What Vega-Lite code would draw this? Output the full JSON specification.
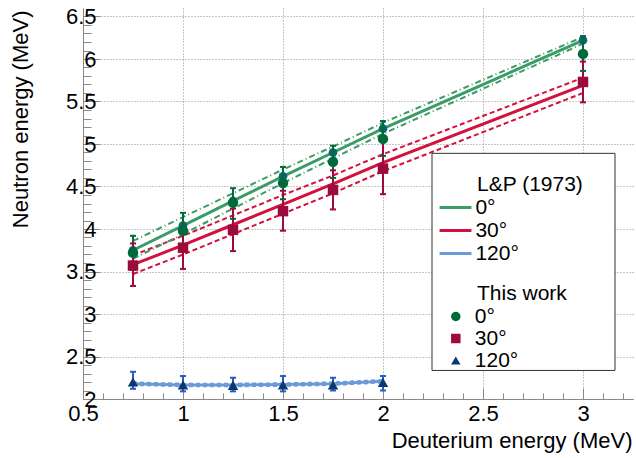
{
  "$schema": "https://vega.github.io/schema/vega-lite/v6.json",
  "width": 550,
  "height": 391,
  "autosize": {"type": "none"},
  "padding": {"left": 83, "top": 8, "right": 3, "bottom": 59},
  "background": "white",
  "config": {
    "view": {"stroke": null},
    "font": "Liberation Sans",
    "axis": {
      "labelFont": "Liberation Sans",
      "labelFontSize": 22,
      "labelColor": "black",
      "titleFont": "Liberation Sans",
      "titleFontSize": 22,
      "titleFontWeight": "normal",
      "titleColor": "black",
      "domainColor": "#888888",
      "tickColor": "#888888",
      "tickWidth": 1,
      "gridColor": "#8c8c8c",
      "gridDash": [1, 2],
      "gridWidth": 1,
      "labelOverlap": false,
      "labelFlush": false,
      "labelBound": false
    },
    "legend": {
      "labelFont": "Liberation Sans",
      "labelFontSize": 21,
      "labelColor": "black",
      "titleFont": "Liberation Sans",
      "titleFontSize": 21,
      "titleFontWeight": "normal",
      "titleColor": "black",
      "titlePadding": 2,
      "rowPadding": 1,
      "padding": 0,
      "titleLimit": 400
    }
  },
  "datasets": {
    "lp": [
      {"angle": "0°", "x": 0.75, "c": 3.75, "u": 3.86, "l": 3.65},
      {"angle": "0°", "x": 1.0, "c": 4.04, "u": 4.14, "l": 3.94},
      {"angle": "0°", "x": 1.25, "c": 4.33, "u": 4.42, "l": 4.24},
      {"angle": "0°", "x": 1.5, "c": 4.62, "u": 4.70, "l": 4.54},
      {"angle": "0°", "x": 1.75, "c": 4.90, "u": 4.97, "l": 4.83},
      {"angle": "0°", "x": 2.0, "c": 5.18, "u": 5.25, "l": 5.12},
      {"angle": "0°", "x": 3.0, "c": 6.22, "u": 6.26, "l": 6.18},
      {"angle": "30°", "x": 0.75, "c": 3.58, "u": 3.69, "l": 3.47},
      {"angle": "30°", "x": 1.0, "c": 3.81, "u": 3.92, "l": 3.70},
      {"angle": "30°", "x": 1.25, "c": 4.05, "u": 4.16, "l": 3.94},
      {"angle": "30°", "x": 1.5, "c": 4.29, "u": 4.40, "l": 4.18},
      {"angle": "30°", "x": 1.75, "c": 4.53, "u": 4.63, "l": 4.42},
      {"angle": "30°", "x": 2.0, "c": 4.78, "u": 4.88, "l": 4.68},
      {"angle": "30°", "x": 3.0, "c": 5.69, "u": 5.78, "l": 5.60},
      {"angle": "120°", "x": 0.75, "c": 2.18, "u": 2.195, "l": 2.165},
      {"angle": "120°", "x": 1.0, "c": 2.165, "u": 2.18, "l": 2.15},
      {"angle": "120°", "x": 1.25, "c": 2.165, "u": 2.18, "l": 2.15},
      {"angle": "120°", "x": 1.5, "c": 2.17, "u": 2.185, "l": 2.155},
      {"angle": "120°", "x": 1.75, "c": 2.18, "u": 2.195, "l": 2.165},
      {"angle": "120°", "x": 2.0, "c": 2.21, "u": 2.225, "l": 2.195}
    ],
    "tw": [
      {"angle": "0°", "x": 0.75, "y": 3.72, "lo": 3.52, "hi": 3.92},
      {"angle": "0°", "x": 1.0, "y": 3.98, "lo": 3.78, "hi": 4.19},
      {"angle": "0°", "x": 1.25, "y": 4.31, "lo": 4.12, "hi": 4.48},
      {"angle": "0°", "x": 1.5, "y": 4.54, "lo": 4.35, "hi": 4.73},
      {"angle": "0°", "x": 1.75, "y": 4.79, "lo": 4.60, "hi": 4.98},
      {"angle": "0°", "x": 2.0, "y": 5.06, "lo": 4.86, "hi": 5.27},
      {"angle": "0°", "x": 3.0, "y": 6.06, "lo": 5.86, "hi": 6.27},
      {"angle": "30°", "x": 0.75, "y": 3.57, "lo": 3.33, "hi": 3.83},
      {"angle": "30°", "x": 1.0, "y": 3.78, "lo": 3.53, "hi": 4.02},
      {"angle": "30°", "x": 1.25, "y": 3.99, "lo": 3.74, "hi": 4.24},
      {"angle": "30°", "x": 1.5, "y": 4.21, "lo": 3.98, "hi": 4.45},
      {"angle": "30°", "x": 1.75, "y": 4.46, "lo": 4.23, "hi": 4.69},
      {"angle": "30°", "x": 2.0, "y": 4.71, "lo": 4.41, "hi": 5.03},
      {"angle": "30°", "x": 3.0, "y": 5.73, "lo": 5.49, "hi": 5.97},
      {"angle": "120°", "x": 0.75, "y": 2.20, "lo": 2.12, "hi": 2.32},
      {"angle": "120°", "x": 1.0, "y": 2.165, "lo": 2.09, "hi": 2.27},
      {"angle": "120°", "x": 1.25, "y": 2.16, "lo": 2.09, "hi": 2.25},
      {"angle": "120°", "x": 1.5, "y": 2.165, "lo": 2.09, "hi": 2.27},
      {"angle": "120°", "x": 1.75, "y": 2.165, "lo": 2.10, "hi": 2.25},
      {"angle": "120°", "x": 2.0, "y": 2.195, "lo": 2.10, "hi": 2.27}
    ],
    "box": [{"x": 2.245, "x2": 3.16, "y": 2.336, "y2": 4.89}]
  },
  "resolve": {"axis": {"x": "independent", "y": "independent"}},
  "layer": [
    {
      "data": {"name": "box"},
      "mark": {"type": "rect", "fill": "white", "stroke": "#333333", "strokeWidth": 1},
      "encoding": {
        "x": {"field": "x", "type": "quantitative", "scale": {"domain": [0.5, 3.25], "nice": false, "zero": false},
          "axis": {"orient": "bottom", "values": [0.6,0.7,0.8,0.9,1.1,1.2,1.3,1.4,1.6,1.7,1.8,1.9,2.1,2.2,2.3,2.4,2.6,2.7,2.8,2.9,3.1,3.2],
            "labels": false, "grid": false, "domain": false, "ticks": true, "tickSize": -6, "title": null}},
        "x2": {"field": "x2"},
        "y": {"field": "y", "type": "quantitative", "scale": {"domain": [2, 6.6], "nice": false, "zero": false},
          "axis": {"orient": "left", "values": [2.1,2.2,2.3,2.4,2.6,2.7,2.8,2.9,3.1,3.2,3.3,3.4,3.6,3.7,3.8,3.9,4.1,4.2,4.3,4.4,4.6,4.7,4.8,4.9,5.1,5.2,5.3,5.4,5.6,5.7,5.8,5.9,6.1,6.2,6.3,6.4],
            "labels": false, "grid": false, "domain": false, "ticks": true, "tickSize": -8, "title": null}},
        "y2": {"field": "y2"}
      }
    },
    {
      "data": {"name": "lp"},
      "mark": {"type": "line", "strokeWidth": 2},
      "encoding": {
        "x": {"field": "x", "type": "quantitative", "axis": null},
        "y": {"field": "u", "type": "quantitative", "axis": null},
        "stroke": {"field": "angle", "type": "nominal", "sort": ["0°", "30°", "120°"]},
        "strokeDash": {"field": "angle", "type": "nominal", "scale": {"domain": ["120°", "0°", "30°"], "range": [[4, 3], [6, 3, 1, 3], [5, 3]]}, "legend": null}
      }
    },
    {
      "data": {"name": "lp"},
      "mark": {"type": "line", "strokeWidth": 2},
      "encoding": {
        "x": {"field": "x", "type": "quantitative", "axis": null},
        "y": {"field": "l", "type": "quantitative", "axis": null},
        "stroke": {"field": "angle", "type": "nominal", "sort": ["0°", "30°", "120°"]},
        "strokeDash": {"field": "angle", "type": "nominal", "legend": null}
      }
    },
    {
      "data": {"name": "lp"},
      "mark": {"type": "line", "strokeWidth": 3},
      "encoding": {
        "x": {"field": "x", "type": "quantitative",
          "axis": {"orient": "bottom", "values": [0.5, 1, 1.5, 2, 2.5, 3], "format": "~g", "grid": true, "tickSize": -11, "labelPadding": 15,
            "title": "Deuterium energy (MeV)", "titleAnchor": "end", "titleAlign": "right", "titleX": 549, "titleY": 48, "titleBaseline": "alphabetic"}},
        "y": {"field": "c", "type": "quantitative",
          "axis": {"orient": "left", "values": [2, 2.5, 3, 3.5, 4, 4.5, 5, 5.5, 6, 6.5], "format": "~g", "grid": true, "tickSize": -17, "labelPadding": 4,
            "title": "Neutron energy (MeV)", "titleAnchor": "end", "titleAlign": "right", "titleAngle": -90, "titleX": -56, "titleY": 2, "titleBaseline": "alphabetic"}},
        "stroke": {"field": "angle", "type": "nominal", "sort": ["0°", "30°", "120°"],
          "scale": {"range": ["#3b9c65", "#d4103c", "#6a9ad8"]},
          "legend": {"title": "L&P (1973)", "orient": "none", "legendX": 394, "legendY": 166, "zindex": 2,
            "symbolType": "M-3,0H3", "symbolSize": 113, "symbolStrokeWidth": 3, "symbolOffset": -32, "labelOffset": 9.4}}
      }
    },
    {
      "data": {"name": "lp"},
      "transform": [{"filter": "datum.angle == '0°'"}],
      "mark": {"type": "point", "filled": true, "color": "#0c6470", "size": 75, "opacity": 1},
      "encoding": {
        "x": {"field": "x", "type": "quantitative", "axis": null},
        "y": {"field": "c", "type": "quantitative", "axis": null}
      }
    },
    {
      "data": {"name": "tw"},
      "mark": {"type": "rule", "strokeWidth": 2},
      "encoding": {
        "x": {"field": "x", "type": "quantitative", "axis": null},
        "y": {"field": "lo", "type": "quantitative", "axis": null},
        "y2": {"field": "hi"},
        "color": {"field": "angle", "type": "nominal", "scale": {"domain": ["30°", "120°", "0°"], "range": ["#9c0a3e", "#2a5bc4", "#006a3a"]}, "legend": null}
      }
    },
    {
      "data": {"name": "tw"},
      "mark": {"type": "tick", "orient": "horizontal", "size": 6, "thickness": 2, "opacity": 1},
      "encoding": {
        "x": {"field": "x", "type": "quantitative", "axis": null},
        "y": {"field": "hi", "type": "quantitative", "axis": null},
        "color": {"field": "angle", "type": "nominal", "legend": null}
      }
    },
    {
      "data": {"name": "tw"},
      "mark": {"type": "tick", "orient": "horizontal", "size": 6, "thickness": 2, "opacity": 1},
      "encoding": {
        "x": {"field": "x", "type": "quantitative", "axis": null},
        "y": {"field": "lo", "type": "quantitative", "axis": null},
        "color": {"field": "angle", "type": "nominal", "legend": null}
      }
    },
    {
      "data": {"name": "tw"},
      "mark": {"type": "point", "filled": true, "size": 110, "opacity": 1, "strokeWidth": 0},
      "encoding": {
        "x": {"field": "x", "type": "quantitative", "axis": null},
        "y": {"field": "y", "type": "quantitative", "axis": null},
        "fill": {"field": "angle", "type": "nominal",
          "scale": {"domain": ["0°", "30°", "120°"], "range": ["#006a3a", "#9c0a3e", "#0a3870"]},
          "legend": {"title": "This work", "orient": "none", "legendX": 394, "legendY": 275, "zindex": 2, "rowPadding": 0,
            "symbolSize": 90, "symbolStrokeWidth": 0, "symbolOffset": -31.7, "labelOffset": 8.5}},
        "shape": {"field": "angle", "type": "nominal",
          "scale": {"domain": ["0°", "30°", "120°"], "range": ["circle", "square", "triangle-up"]},
          "legend": {"title": "This work", "orient": "none", "legendX": 394, "legendY": 275, "zindex": 2, "rowPadding": 0,
            "symbolSize": 90, "symbolStrokeWidth": 0, "symbolOffset": -31.7, "labelOffset": 8.5}}
      }
    }
  ]
}
